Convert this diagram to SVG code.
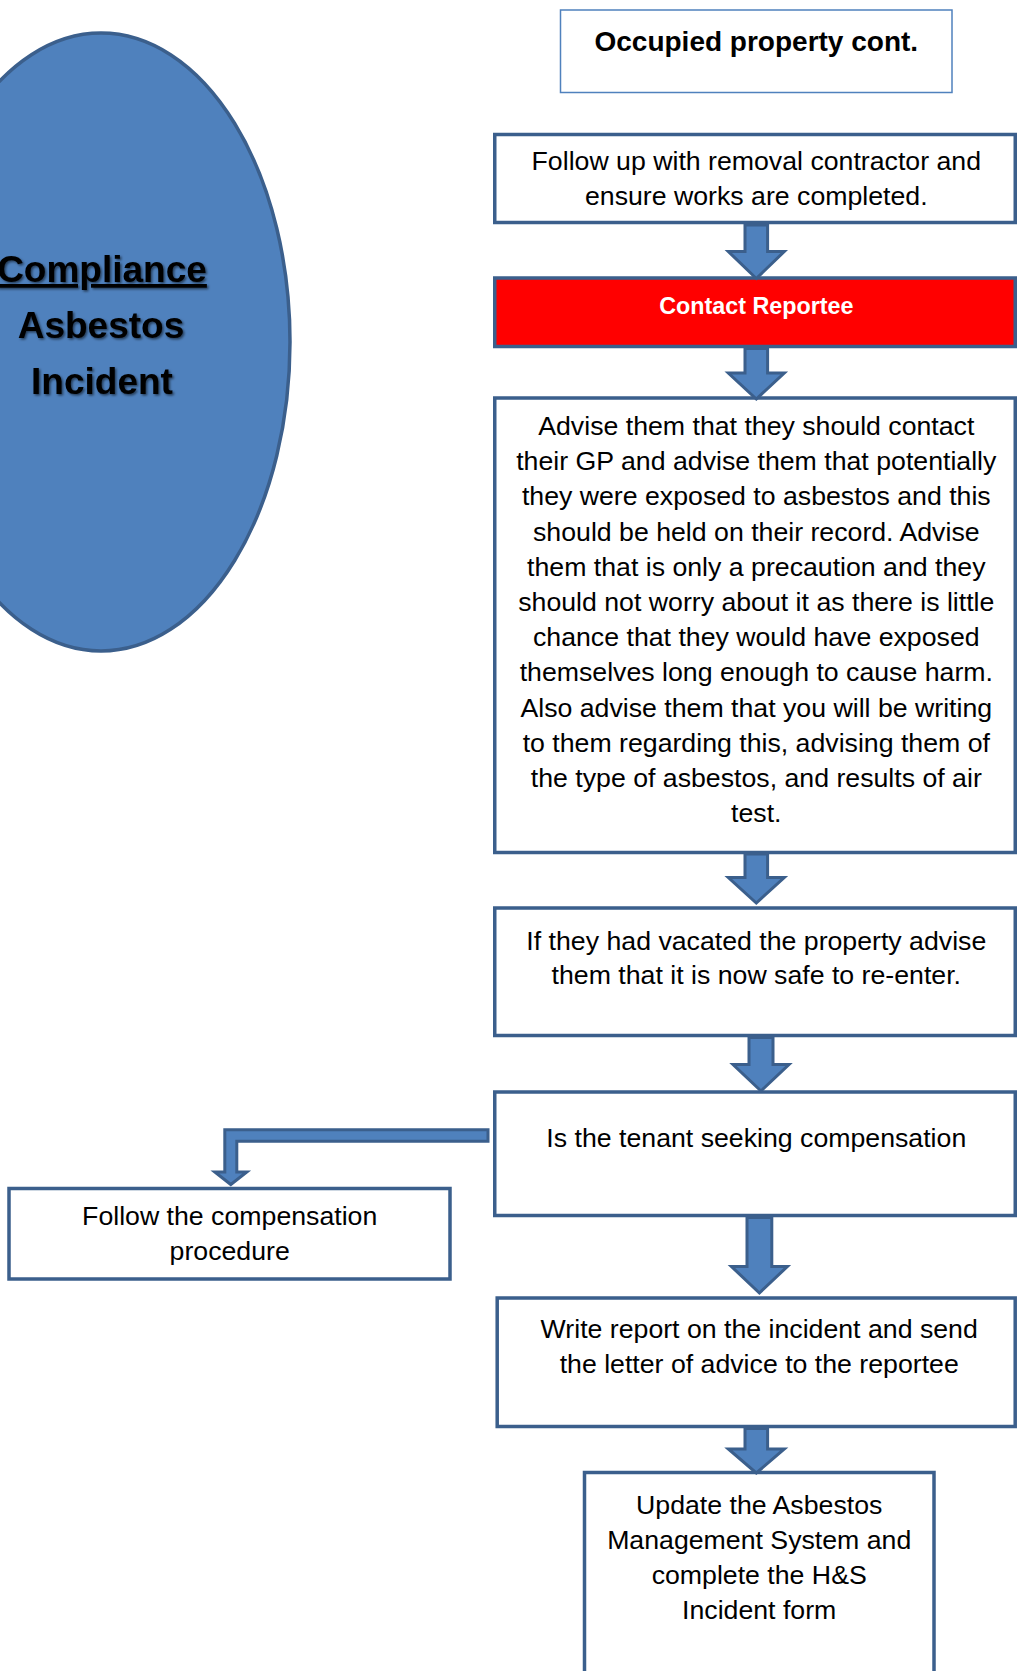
<svg xmlns="http://www.w3.org/2000/svg" width="1017" height="1671" viewBox="0 0 1017 1671">
<style>
.box{fill:#ffffff;stroke:#3b5f8c;stroke-width:3.5}
.red{fill:#ff0000;stroke:#3b5f8c;stroke-width:3.5}
.arrow{fill:#4f81bd;stroke:#3b5f8c;stroke-width:3;stroke-linejoin:miter}
.t{font-family:"Liberation Sans",Arial,sans-serif;font-size:26.7px;fill:#000;text-anchor:middle}
.tb{font-family:"Liberation Sans",Arial,sans-serif;font-weight:bold;text-anchor:middle}
</style>
<defs>
<filter id="sh" x="-10%" y="-20%" width="130%" height="150%">
<feDropShadow dx="1.5" dy="1.5" stdDeviation="1.2" flood-color="#000" flood-opacity="0.55"/>
</filter>
</defs>
<rect width="1017" height="1671" fill="#ffffff"/>

<g id="ellipse">
<ellipse cx="101" cy="342" rx="189" ry="309" fill="#4f81bd" stroke="#3b5f8c" stroke-width="3.5"/>
<g filter="url(#sh)">
<text class="tb" x="102" y="282" font-size="37" text-decoration="underline">Compliance</text>
<text class="tb" x="101" y="337.5" font-size="37">Asbestos</text>
<text class="tb" x="102" y="393.5" font-size="37">Incident</text>
</g>
</g>

<g id="occupied">
<rect x="560.5" y="10" width="391.5" height="82.5" fill="#fff" stroke="#4f81bd" stroke-width="1.5"/>
<text class="tb" x="756.3" y="50.5" font-size="28">Occupied property cont.</text>
</g>

<g id="follow-up">
<rect class="box" x="494.75" y="134.5" width="520.5" height="88"/>
<text class="t" x="756.3" y="170">Follow up with removal contractor and</text>
<text class="t" x="756.3" y="205">ensure works are completed.</text>
</g>

<g id="contact">
<rect class="red" x="494.75" y="278" width="520.5" height="68.5"/>
<text class="tb" x="756.3" y="314" font-size="23.3" fill="#ffffff">Contact Reportee</text>
</g>

<g id="advise">
<rect class="box" x="494.75" y="398" width="520.5" height="454.5"/>
<text class="t" x="756.3" y="435">Advise them that they should contact</text>
<text class="t" x="756.3" y="470.2">their GP and advise them that potentially</text>
<text class="t" x="756.3" y="505.4">they were exposed to asbestos and this</text>
<text class="t" x="756.3" y="540.6">should be held on their record. Advise</text>
<text class="t" x="756.3" y="575.8">them that is only a precaution and they</text>
<text class="t" x="756.3" y="611">should not worry about it as there is little</text>
<text class="t" x="756.3" y="646.2">chance that they would have exposed</text>
<text class="t" x="756.3" y="681.4">themselves long enough to cause harm.</text>
<text class="t" x="756.3" y="716.6">Also advise them that you will be writing</text>
<text class="t" x="756.3" y="751.8">to them regarding this, advising them of</text>
<text class="t" x="756.3" y="787">the type of asbestos, and results of air</text>
<text class="t" x="756.3" y="822.2">test.</text>
</g>

<g id="vacated">
<rect class="box" x="494.75" y="908" width="520.5" height="127.5"/>
<text class="t" x="756.3" y="949.5">If they had vacated the property advise</text>
<text class="t" x="756.3" y="983.5">them that it is now safe to re-enter.</text>
</g>

<g id="compensation-question">
<rect class="box" x="494.75" y="1092" width="520.5" height="123.5"/>
<text class="t" x="756.3" y="1146.5">Is the tenant seeking compensation</text>
</g>

<g id="compensation-procedure">
<rect class="box" x="9" y="1188.5" width="441" height="90.5"/>
<text class="t" x="229.7" y="1224.5">Follow the compensation</text>
<text class="t" x="229.7" y="1260">procedure</text>
</g>

<g id="write-report">
<rect class="box" x="497.2" y="1298" width="518" height="128.5"/>
<text class="t" x="759.2" y="1337.5">Write report on the incident and send</text>
<text class="t" x="759.2" y="1372.5">the letter of advice to the reportee</text>
</g>

<g id="update">
<rect class="box" x="584.5" y="1472.5" width="349.5" height="210"/>
<text class="t" x="759.2" y="1514">Update the Asbestos</text>
<text class="t" x="759.2" y="1549">Management System and</text>
<text class="t" x="759.2" y="1584">complete the H&amp;S</text>
<text class="t" x="759.2" y="1618.5">Incident form</text>
</g>

<g id="connectors">
<path class="arrow" d="M745 225 H767.6 V251.5 H784.3 L756.3 278.5 L728.3 251.5 H745 Z"/>
<path class="arrow" d="M745 348.5 H767.6 V373 H784.3 L756.3 399 L728.3 373 H745 Z"/>
<path class="arrow" d="M745 854 H767.6 V877.5 H784.3 L756.3 903 L728.3 877.5 H745 Z"/>
<path class="arrow" d="M749 1037.5 H773 V1064.5 H789 L761 1091 L733 1064.5 H749 Z"/>
<path class="arrow" d="M747 1217.5 H771.8 V1266.5 H787.4 L759.4 1293 L731.4 1266.5 H747 Z"/>
<path class="arrow" d="M745 1428.5 H767.6 V1449 H784.3 L756.3 1473 L728.3 1449 H745 Z"/>
<path class="arrow" d="M488 1129.8 H224.8 V1172 H214.8 L230.8 1184.5 L246.8 1172 H236.8 V1141.2 H488 Z"/>
</g>
</svg>
